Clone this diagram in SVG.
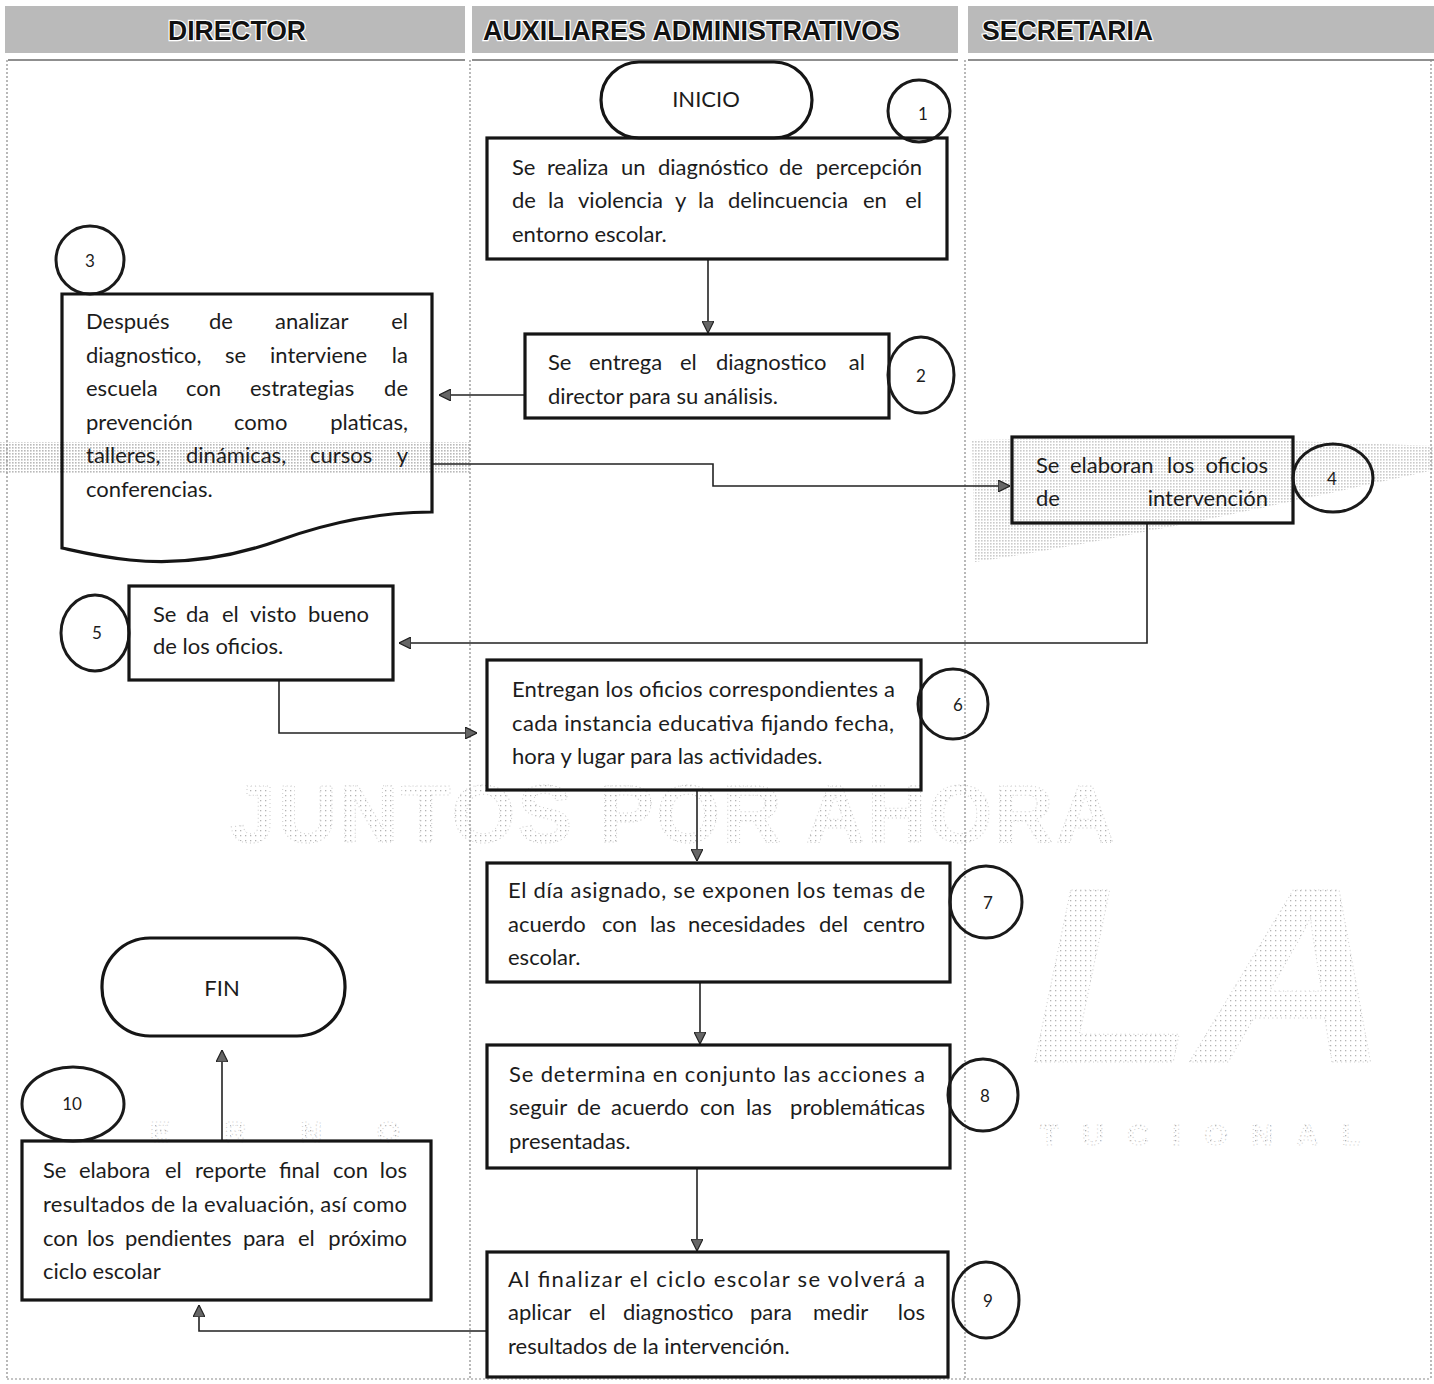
<svg xmlns="http://www.w3.org/2000/svg" width="1434" height="1384" viewBox="0 0 1434 1384">
  <defs>
    <style>
      .hdr { fill: #bababa; }
      .ht { font-family: "Liberation Sans Narrow", "Liberation Sans", Arial, sans-serif; font-weight: bold; font-size: 28px; fill: #111; stroke: #fff; stroke-width: 2.5px; paint-order: stroke; }
      .lane { stroke: #8a8a8a; stroke-width: 1.2; stroke-dasharray: 2 2; fill: none; }
      .top { stroke: #6a6a6a; stroke-width: 1.5; }
      .box { fill: none; stroke: #151515; stroke-width: 3.2; }
      .num { fill: none; stroke: #1a1a1a; stroke-width: 3; }
      .t { font-family: Lato, "Liberation Sans", sans-serif; font-size: 22px; fill: #1c1c1c; }
      .n { font-family: Lato, "Liberation Sans", sans-serif; font-size: 17px; fill: #1c1c1c; text-anchor: middle; }
      .e { text-anchor: end; }
      .conn path { fill: none; stroke: #222; stroke-width: 1.6; marker-end: url(#ah); }
      .wm { font-family: "Liberation Sans", Arial, sans-serif; font-weight: bold; fill: url(#dotsLight); stroke: #cfcfcf; stroke-width: 1; stroke-dasharray: 1 3; }
    </style>
    <!-- halftone dot fills for the faint background marks -->
    <pattern id="dots" width="3" height="3" patternUnits="userSpaceOnUse">
      <rect width="3" height="3" fill="#fff"/>
      <rect width="1.6" height="1.6" fill="#a8a8a8"/>
    </pattern>
    <pattern id="dotsLight" width="5" height="5" patternUnits="userSpaceOnUse">
      <rect width="1.3" height="1.3" fill="#b4b4b4"/>
    </pattern>
    <marker id="ah" viewBox="0 0 10 10" refX="10" refY="5" markerWidth="12" markerHeight="12" markerUnits="userSpaceOnUse" orient="auto">
      <path d="M0,0 L10,5 L0,10 z" fill="#666" stroke="#222" stroke-width="1"/>
    </marker>
  </defs>

  <rect width="1434" height="1384" fill="#fff"/>

  <!-- background watermark -->
  <g id="watermark">
    <path d="M0,442 H470 V474 H0 Z" fill="url(#dots)" opacity="0.8"/>
    <path d="M972,440 C1120,436 1300,440 1434,446 L1434,470 C1300,500 1120,540 975,562 Z" fill="url(#dots)" opacity="0.6"/>
    <text class="wm" x="230" y="842" font-size="82" textLength="885" lengthAdjust="spacing">JUNTOS POR AHORA</text>
    <text class="wm" x="1030" y="1062" font-size="250" font-style="italic" textLength="360" lengthAdjust="spacingAndGlyphs">LA</text>
    <text class="wm" x="150" y="1142" font-size="30" textLength="250" lengthAdjust="spacing">ERNO</text>
    <text class="wm" x="1040" y="1145" font-size="30" textLength="320" lengthAdjust="spacing">TUCIONAL</text>
  </g>

  <!-- swimlane headers -->
  <g id="lanes">
    <rect class="hdr" x="5" y="6" width="460" height="47"/>
    <rect class="hdr" x="472" y="6" width="486" height="47"/>
    <rect class="hdr" x="968" y="6" width="466" height="47"/>
    <text class="ht" x="168" y="40" textLength="138" lengthAdjust="spacingAndGlyphs">DIRECTOR</text>
    <text class="ht" x="483" y="40" textLength="417" lengthAdjust="spacingAndGlyphs">AUXILIARES ADMINISTRATIVOS</text>
    <text class="ht" x="982" y="40" textLength="171" lengthAdjust="spacingAndGlyphs">SECRETARIA</text>
    <line class="top" x1="8" y1="60" x2="465" y2="60"/>
    <line class="top" x1="472" y1="60" x2="958" y2="60"/>
    <line class="top" x1="968" y1="60" x2="1434" y2="60"/>
    <line class="lane" x1="7" y1="60" x2="7" y2="1378"/>
    <line class="lane" x1="470" y1="60" x2="470" y2="1378"/>
    <line class="lane" x1="965" y1="60" x2="965" y2="1378"/>
    <line class="lane" x1="1431" y1="60" x2="1431" y2="1378"/>
    <line class="lane" x1="7" y1="1379" x2="1431" y2="1379"/>
  </g>

  <!-- connectors -->
  <g id="connectors" class="conn">
    <path d="M708,260 V333"/>
    <path d="M524,395 H439"/>
    <path d="M432,464 H713 V486 H1010"/>
    <path d="M1147,523 V643 H399"/>
    <path d="M279,680 V733 H477"/>
    <path d="M697,790 V861"/>
    <path d="M700,982 V1044"/>
    <path d="M697,1168 V1251"/>
    <path d="M487,1331 H199 V1305"/>
    <path d="M222,1142 V1050"/>
  </g>

  <!-- start -->
  <g id="inicio">
    <rect class="box" x="601" y="62" width="211" height="76" rx="38"/>
    <text class="t" x="706" y="107" font-size="18" text-anchor="middle">INICIO</text>
  </g>

  <!-- step 1 -->
  <g id="step1">
    <circle class="num" cx="919" cy="111" r="31"/>
    <text class="n" x="923" y="120" font-size="14">1</text>
    <rect class="box" x="487" y="138" width="460" height="121"/>
    <text class="t" y="175"><tspan x="512">Se</tspan><tspan x="547">realiza</tspan><tspan x="621">un</tspan><tspan x="658">diagnóstico</tspan><tspan x="779">de</tspan><tspan x="922" class="e">percepción</tspan></text>
    <text class="t" y="208"><tspan x="512">de</tspan><tspan x="548">la</tspan><tspan x="578">violencia</tspan><tspan x="675">y</tspan><tspan x="698">la</tspan><tspan x="728">delincuencia</tspan><tspan x="863">en</tspan><tspan x="922" class="e">el</tspan></text>
    <text class="t" x="512" y="242">entorno escolar.</text>
  </g>

  <!-- step 2 -->
  <g id="step2">
    <rect class="box" x="525" y="334" width="364" height="84"/>
    <ellipse class="num" cx="921" cy="375" rx="33" ry="38"/>
    <text class="n" x="921" y="382" font-size="18">2</text>
    <text class="t" y="370"><tspan x="548">Se</tspan><tspan x="589">entrega</tspan><tspan x="680">el</tspan><tspan x="716">diagnostico</tspan><tspan x="865" class="e">al</tspan></text>
    <text class="t" x="548" y="404">director para su análisis.</text>
  </g>

  <!-- step 3 (document) -->
  <g id="step3">
    <circle class="num" cx="90" cy="260" r="34"/>
    <text class="n" x="90" y="267">3</text>
    <path class="box" d="M62,294 H432 V512 C380,512 330,522 280,540 C230,558 180,565 130,560 C100,557 80,552 62,548 Z"/>
    <text class="t" y="329"><tspan x="86">Después</tspan><tspan x="209">de</tspan><tspan x="275">analizar</tspan><tspan x="408" class="e">el</tspan></text>
    <text class="t" y="363"><tspan x="86">diagnostico,</tspan><tspan x="225">se</tspan><tspan x="270">interviene</tspan><tspan x="408" class="e">la</tspan></text>
    <text class="t" y="396"><tspan x="86">escuela</tspan><tspan x="186">con</tspan><tspan x="250">estrategias</tspan><tspan x="408" class="e">de</tspan></text>
    <text class="t" y="430"><tspan x="86">prevención</tspan><tspan x="234">como</tspan><tspan x="408" class="e">platicas,</tspan></text>
    <text class="t" y="463"><tspan x="86">talleres,</tspan><tspan x="186">dinámicas,</tspan><tspan x="310">cursos</tspan><tspan x="408" class="e">y</tspan></text>
    <text class="t" x="86" y="497">conferencias.</text>
  </g>

  <!-- step 4 -->
  <g id="step4">
    <rect class="box" x="1012" y="437" width="281" height="86"/>
    <ellipse class="num" cx="1333" cy="478" rx="40" ry="34"/>
    <text class="n" x="1332" y="485">4</text>
    <text class="t" y="473"><tspan x="1036">Se</tspan><tspan x="1070">elaboran</tspan><tspan x="1167">los</tspan><tspan x="1268" class="e">oficios</tspan></text>
    <text class="t" y="506"><tspan x="1036">de</tspan><tspan x="1268" class="e">intervención</tspan></text>
  </g>

  <!-- step 5 -->
  <g id="step5">
    <ellipse class="num" cx="95" cy="633" rx="34" ry="38"/>
    <text class="n" x="97" y="639" font-size="16">5</text>
    <rect class="box" x="129" y="586" width="264" height="94"/>
    <text class="t" y="622"><tspan x="153">Se</tspan><tspan x="186">da</tspan><tspan x="222">el</tspan><tspan x="250">visto</tspan><tspan x="369" class="e">bueno</tspan></text>
    <text class="t" x="153" y="654">de los oficios.</text>
  </g>

  <!-- step 6 -->
  <g id="step6">
    <rect class="box" x="487" y="660" width="434" height="130"/>
    <circle class="num" cx="953" cy="704" r="35"/>
    <text class="n" x="958" y="711" font-size="16">6</text>
    <text class="t" x="512" y="697" textLength="383" lengthAdjust="spacing">Entregan los oficios correspondientes a</text>
    <text class="t" x="512" y="731" textLength="382" lengthAdjust="spacing">cada instancia educativa fijando fecha,</text>
    <text class="t" x="512" y="764">hora y lugar para las actividades.</text>
  </g>

  <!-- step 7 -->
  <g id="step7">
    <rect class="box" x="487" y="863" width="463" height="119"/>
    <circle class="num" cx="986" cy="902" r="36"/>
    <text class="n" x="988" y="909">7</text>
    <text class="t" x="508" y="898" textLength="417" lengthAdjust="spacing">El día asignado, se exponen los temas de</text>
    <text class="t" y="932"><tspan x="508">acuerdo</tspan><tspan x="602">con</tspan><tspan x="650">las</tspan><tspan x="688">necesidades</tspan><tspan x="819">del</tspan><tspan x="925" class="e">centro</tspan></text>
    <text class="t" x="508" y="965">escolar.</text>
  </g>

  <!-- step 8 -->
  <g id="step8">
    <rect class="box" x="487" y="1045" width="463" height="123"/>
    <ellipse class="num" cx="983" cy="1095" rx="35" ry="36"/>
    <text class="n" x="985" y="1102">8</text>
    <text class="t" x="509" y="1082" textLength="416" lengthAdjust="spacing">Se determina en conjunto las acciones a</text>
    <text class="t" y="1115"><tspan x="509">seguir</tspan><tspan x="577">de</tspan><tspan x="611">acuerdo</tspan><tspan x="700">con</tspan><tspan x="746">las</tspan><tspan x="925" class="e">problemáticas</tspan></text>
    <text class="t" x="509" y="1149">presentadas.</text>
  </g>

  <!-- step 9 -->
  <g id="step9">
    <rect class="box" x="487" y="1252" width="461" height="125"/>
    <ellipse class="num" cx="986" cy="1300" rx="33" ry="38"/>
    <text class="n" x="988" y="1307" font-size="18">9</text>
    <text class="t" x="508" y="1287" textLength="417" lengthAdjust="spacing">Al finalizar el ciclo escolar se volverá a</text>
    <text class="t" y="1320"><tspan x="508">aplicar</tspan><tspan x="589">el</tspan><tspan x="623">diagnostico</tspan><tspan x="750">para</tspan><tspan x="813">medir</tspan><tspan x="925" class="e">los</tspan></text>
    <text class="t" x="508" y="1354">resultados de la intervención.</text>
  </g>

  <!-- step 10 -->
  <g id="step10">
    <ellipse class="num" cx="73" cy="1104" rx="51" ry="37"/>
    <text class="n" x="72" y="1110">10</text>
    <rect class="box" x="22" y="1141" width="409" height="159"/>
    <text class="t" y="1178"><tspan x="43">Se</tspan><tspan x="79">elabora</tspan><tspan x="165">el</tspan><tspan x="195">reporte</tspan><tspan x="279">final</tspan><tspan x="333">con</tspan><tspan x="407" class="e">los</tspan></text>
    <text class="t" x="43" y="1212" textLength="364" lengthAdjust="spacing">resultados de la evaluación, así como</text>
    <text class="t" y="1246"><tspan x="43">con</tspan><tspan x="87">los</tspan><tspan x="125">pendientes</tspan><tspan x="243">para</tspan><tspan x="298">el</tspan><tspan x="407" class="e">próximo</tspan></text>
    <text class="t" x="43" y="1279">ciclo escolar</text>
  </g>

  <!-- end -->
  <g id="fin">
    <rect class="box" x="102" y="938" width="243" height="98" rx="48"/>
    <text class="t" x="222" y="996" font-size="25" text-anchor="middle">FIN</text>
  </g>
</svg>
